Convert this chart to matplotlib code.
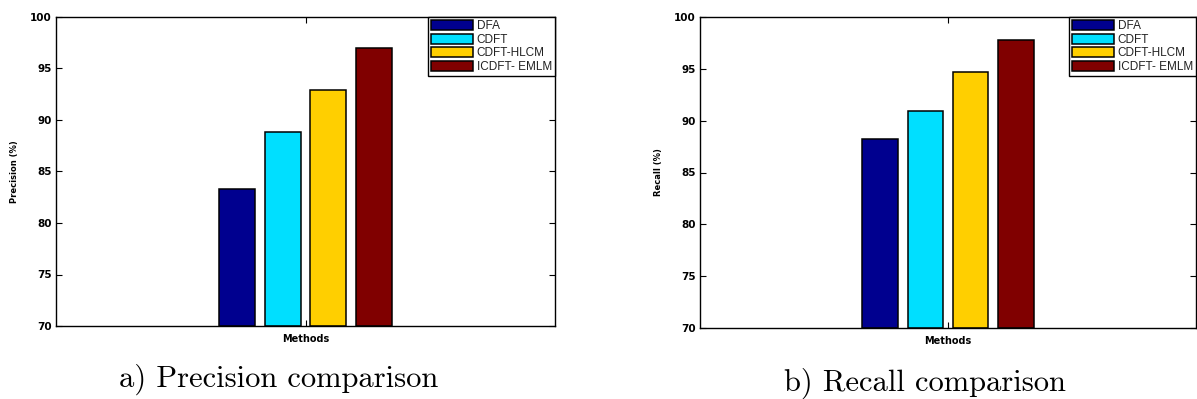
import matplotlib
matplotlib.use("Agg")
import matplotlib.pyplot as plt
import numpy as np

methods = ['DFA', 'CDFT', 'CDFT-HLCM', 'ICDFT- EMLM']
precision = [83.3, 88.8, 92.9, 97.0]
recall = [88.2, 90.9, 94.7, 97.8]
colors = ['#00008f', '#00dfff', '#ffcf00', '#800000']

W, H = 1197, 399
fig = plt.figure(figsize=(W / 100, H / 100), dpi=100)


def draw_panel(rect, values, ylabel, caption, cap_xy):
    ax = fig.add_axes(rect)
    step = 0.091
    width = 0.072
    offsets = (np.arange(len(values)) - (len(values) - 1) / 2) * step
    for off, v, c, m in zip(offsets, values, colors, methods):
        ax.bar(1 + off, v - 70, bottom=70, width=width, color=c,
               edgecolor='black', linewidth=1.1, label=m)
    ax.set_xlim(0.5, 1.5)
    ax.set_ylim(70, 100)
    ax.set_xticks([1])
    ax.set_xticklabels([''])
    ax.set_yticks(np.arange(70, 101, 5))
    ax.tick_params(direction='in', length=4, width=0.8, top=True, right=True,
                   labelsize=7.5, pad=3)
    for lab in ax.get_yticklabels():
        lab.set_fontweight('bold')
    for s in ax.spines.values():
        s.set_linewidth(1.0)
    ax.set_ylabel(ylabel, fontsize=6, fontweight='bold', labelpad=8)
    ax.set_xlabel('Methods', fontsize=7, fontweight='bold', labelpad=3)
    leg = ax.legend(loc='upper right', prop={'family': 'Liberation Sans', 'size': 8.5},
                    frameon=True, fancybox=False,
                    edgecolor='black', framealpha=1, borderaxespad=0,
                    handlelength=3.6, handleheight=0.95, labelspacing=0.12,
                    handletextpad=0.3, borderpad=0.25)
    leg.get_frame().set_linewidth(1.0)
    for t in leg.get_texts():
        t.set_color('#222222')
    fig.text(cap_xy[0] / W, 1 - cap_xy[1] / H, caption, fontsize=22,
             family='cmr10', ha='center', va='center')
    return ax


draw_panel([56 / W, (H - 326) / H, 499 / W, 309 / H], precision,
           'Precision (%)', 'a) Precision comparison', (279, 379))
draw_panel([700 / W, (H - 328) / H, 496 / W, 311 / H], recall,
           'Recall (%)', 'b) Recall comparison', (925, 383))

fig.savefig('out.png', dpi=100)
